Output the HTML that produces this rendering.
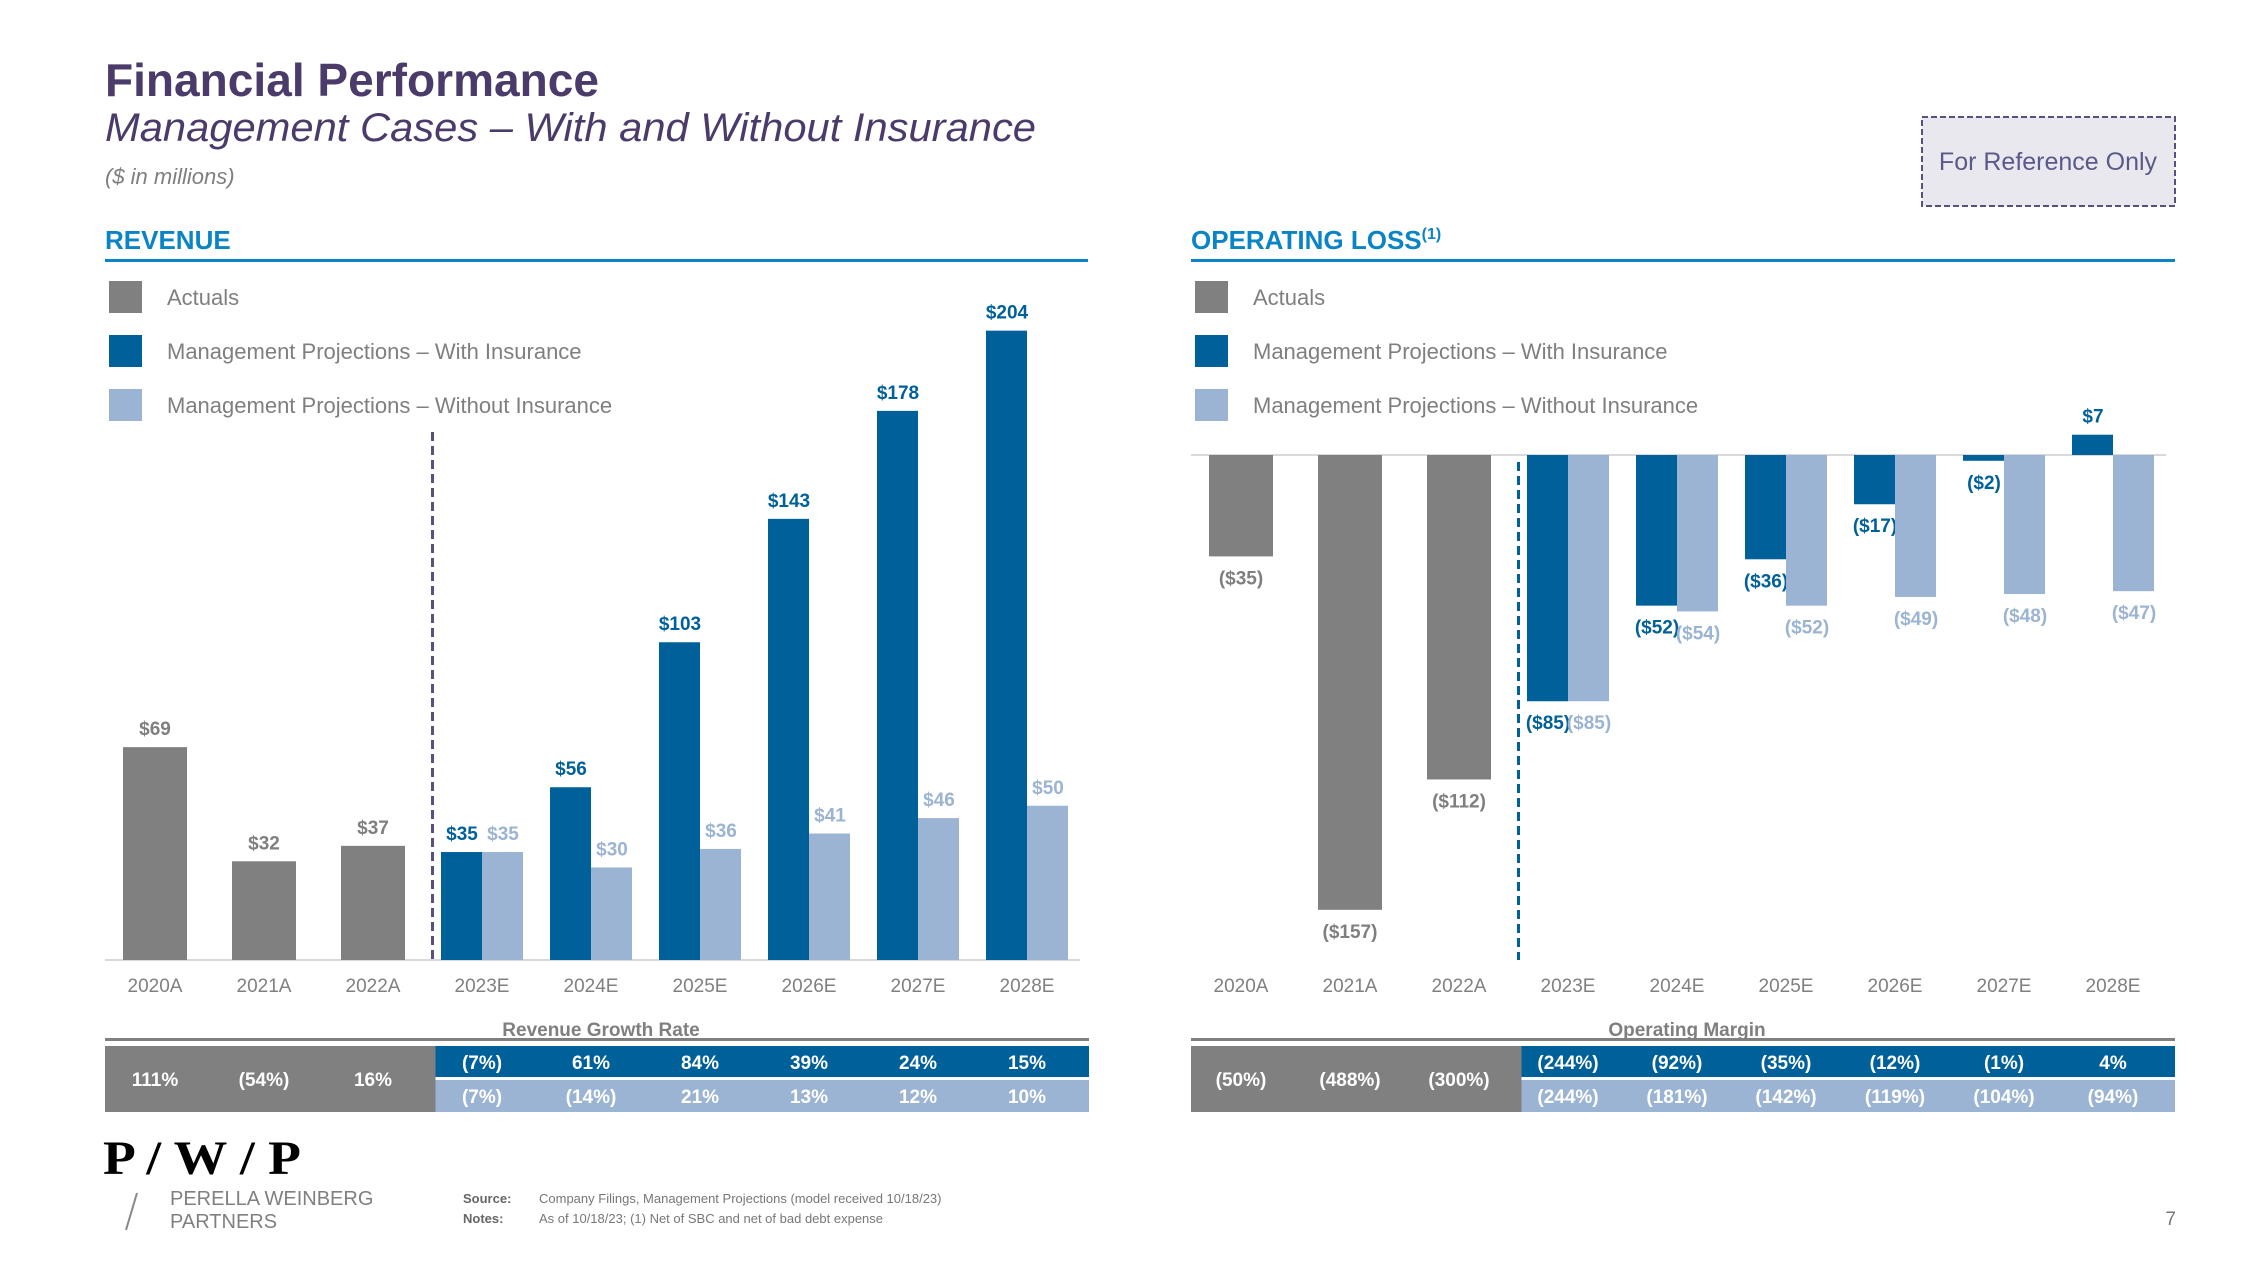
<!DOCTYPE html>
<html><head><meta charset="utf-8"><style>
html,body{margin:0;padding:0;background:#fff;}
svg{display:block;font-family:"Liberation Sans",Arial,sans-serif;}
</style></head><body>
<svg id="s" width="2267" height="1275" viewBox="0 0 2267 1275">
<text x="105" y="96" font-size="46" font-weight="bold" fill="#4b3b6b" textLength="494" lengthAdjust="spacingAndGlyphs">Financial Performance</text>
<text x="105" y="141" font-size="40" font-style="italic" fill="#4b3b6b" textLength="931" lengthAdjust="spacingAndGlyphs">Management Cases – With and Without Insurance</text>
<text x="105" y="184" font-size="22" font-style="italic" fill="#7f7f7f">($ in millions)</text>
<g>
<rect x="1922" y="117" width="253" height="89" fill="#e8e8ee" stroke="#5a4f7f" stroke-width="2" stroke-dasharray="6,3"/>
<text x="2048" y="170" font-size="25" fill="#5a5a8a" text-anchor="middle">For Reference Only</text>
</g>
<text x="105" y="249" font-size="26" font-weight="bold" fill="#0a84c6">REVENUE</text>
<rect x="105" y="259" width="983" height="3" fill="#0a84c6"/>
<text x="1191" y="249" font-size="26" font-weight="bold" fill="#0a84c6">OPERATING LOSS<tspan font-size="16" dy="-10">(1)</tspan></text>
<rect x="1191" y="259" width="984" height="3" fill="#0a84c6"/>
<g id="rev"></g><g id="op"></g>
<g>
<text x="103" y="1174" font-size="48" font-weight="bold" font-family="Liberation Serif,serif" fill="#000" textLength="198" lengthAdjust="spacingAndGlyphs">P / W / P</text>
<line x1="137" y1="1193" x2="126" y2="1230" stroke="#888" stroke-width="2"/>
<text x="170" y="1205" font-size="20" fill="#808080">PERELLA WEINBERG</text>
<text x="170" y="1228" font-size="20" fill="#808080">PARTNERS</text>
</g>
<text x="463" y="1203" font-size="13" font-weight="bold" fill="#666">Source:</text>
<text x="539" y="1203" font-size="13" fill="#777">Company Filings, Management Projections (model received 10/18/23)</text>
<text x="463" y="1223" font-size="13" font-weight="bold" fill="#666">Notes:</text>
<text x="539" y="1223" font-size="13" fill="#777">As of 10/18/23; (1) Net of SBC and net of bad debt expense</text>
<text x="2176" y="1225" font-size="19" fill="#777" text-anchor="end">7</text>
</svg>
<script>
const categories=["2020A","2021A","2022A","2023E","2024E","2025E","2026E","2027E","2028E"];
const revActual=[69,32,37];
const revWith=[35,56,103,143,178,204];
const revWithout=[35,30,36,41,46,50];
const revGrowthActual=["111%","(54%)","16%"];
const revGrowthWith=["(7%)","61%","84%","39%","24%","15%"];
const revGrowthWithout=["(7%)","(14%)","21%","13%","12%","10%"];
const opActual=[-35,-157,-112];
const opWith=[-85,-52,-36,-17,-2,7];
const opWithout=[-85,-54,-52,-49,-48,-47];
const marginActual=["(50%)","(488%)","(300%)"];
const marginWith=["(244%)","(92%)","(35%)","(12%)","(1%)","4%"];
const marginWithout=["(244%)","(181%)","(142%)","(119%)","(104%)","(94%)"];

const NS="http://www.w3.org/2000/svg";
const GRAY="#808080",DARK="#00609a",LIGHT="#9bb4d3";
function el(parent,tag,attrs,txt){const e=document.createElementNS(NS,tag);for(const k in attrs)e.setAttribute(k,attrs[k]);if(txt!==undefined)e.textContent=txt;parent.appendChild(e);return e;}
function fmt(v){return v<0?"($"+Math.abs(v)+")":"$"+v;}

function panel(g,left,base,k,actual,withI,withoutI,gA,gW,gWo,tableTitle,dashColor,dashTop,dashBot){
  const xc=i=>left+50+i*109;
  const yv=v=>base-v*k;
  // legend
  const leg=[[GRAY,"Actuals"],[DARK,"Management Projections – With Insurance"],[LIGHT,"Management Projections – Without Insurance"]];
  leg.forEach((l,i)=>{
    const lg=el(g,"g",{});
    
    
    el(lg,"rect",{x:left+4,y:281+i*54,width:33,height:32,fill:l[0]});
    el(lg,"text",{x:left+62,y:305+i*54,"font-size":22,fill:"#7f7f7f"},l[1]);
  });
  // baseline
  const bl=el(g,"line",{x1:left,x2:left+975,y1:base,y2:base,stroke:"#d9d9d9","stroke-width":2});
  
  
  function bar(x,w,v,col,lblCol,name,lx){
    const y0=yv(Math.max(v,0)),h=Math.abs(v)*k;
    const r=el(g,"rect",{x:x,y:y0,width:w,height:h,fill:col});
    
    
    const ly=v>=0?y0-12:y0+h+28;
    const t=el(g,"text",{x:lx,y:ly,"font-size":19,"font-weight":"bold",fill:lblCol,"text-anchor":"middle"},fmt(v));
    
    
  }
  actual.forEach((v,i)=>bar(xc(i)-32,64,v,GRAY,"#7f7f7f","bar-actual-"+categories[i],xc(i)));
  withI.forEach((v,j)=>{const i=j+3;bar(xc(i)-41,41,v,DARK,DARK,"bar-with-insurance-"+categories[i],xc(i)-20);});
  withoutI.forEach((v,j)=>{const i=j+3;bar(xc(i),41,v,LIGHT,LIGHT,"bar-without-insurance-"+categories[i],xc(i)+21);});
  const dx=(xc(2)+xc(3))/2+5;
  const d=el(g,"line",{x1:dx,x2:dx,y1:dashTop,y2:dashBot,stroke:dashColor,"stroke-width":3,"stroke-dasharray":"9,5"});
  
  
  categories.forEach((c,i)=>{
    const t=el(g,"text",{x:xc(i),y:992,"font-size":19,fill:"#808080","text-anchor":"middle"},c);
    
    
  });
  const tt=el(g,"text",{x:left+496,y:1036,"font-size":19,"font-weight":"bold",fill:"#7f7f7f","text-anchor":"middle"},tableTitle);
  
  
  el(g,"rect",{x:left,y:1038,width:984,height:3,fill:"#808080"});
  const split=dx+3;
  const ga=el(g,"rect",{x:left,y:1046,width:split-left,height:66,fill:GRAY});
  
  
  const gw=el(g,"rect",{x:split,y:1046,width:left+984-split,height:31,fill:DARK});
  
  
  const gwo=el(g,"rect",{x:split,y:1080,width:left+984-split,height:32,fill:LIGHT});
  
  
  gA.forEach((s,i)=>{const t=el(g,"text",{x:xc(i),y:1086,"font-size":19,"font-weight":"bold",fill:"#fff","text-anchor":"middle"},s);
    
    });
  gW.forEach((s,j)=>{const t=el(g,"text",{x:xc(j+3),y:1069,"font-size":19,"font-weight":"bold",fill:"#fff","text-anchor":"middle"},s);
    
    });
  gWo.forEach((s,j)=>{const t=el(g,"text",{x:xc(j+3),y:1103,"font-size":19,"font-weight":"bold",fill:"#fff","text-anchor":"middle"},s);
    
    });
}
const rev=document.getElementById("rev");


panel(rev,105,960,3.085,revActual,revWith,revWithout,revGrowthActual,revGrowthWith,revGrowthWithout,"Revenue Growth Rate","#5a4f7f",432,960);
const op=document.getElementById("op");


panel(op,1191,455,2.897,opActual,opWith,opWithout,marginActual,marginWith,marginWithout,"Operating Margin","#00609a",462,960);
</script>
</body></html>
